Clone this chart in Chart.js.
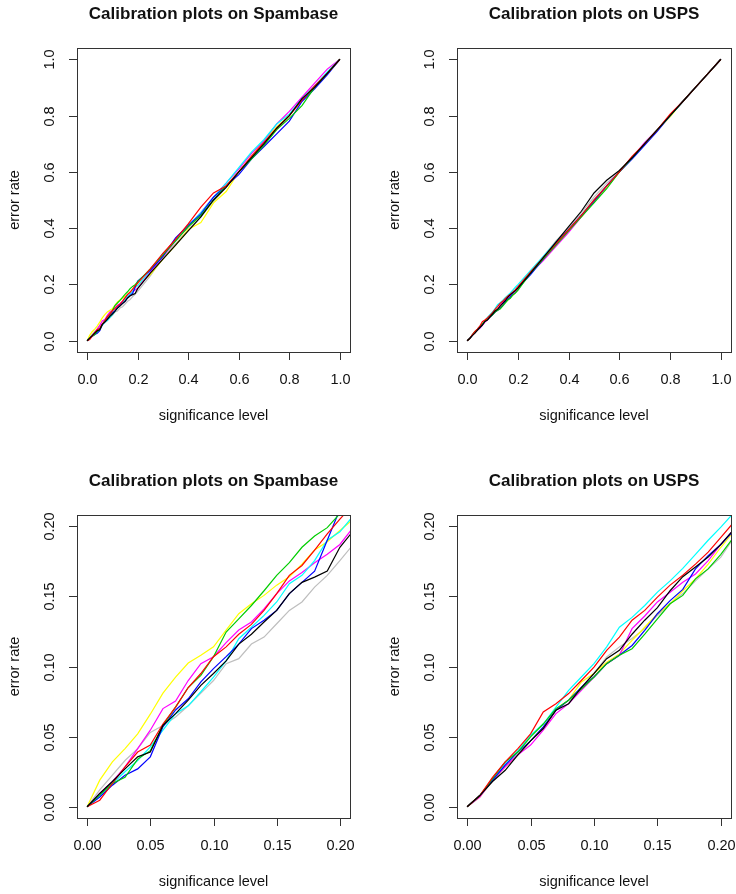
<!DOCTYPE html>
<html>
<head>
<meta charset="utf-8">
<script src="https://cdn.jsdelivr.net/npm/chart.js@4.4.1/dist/chart.umd.min.js"></script>
<style>
  body { margin: 0; background: #fff; }
  #wrap { position: relative; width: 736px; height: 894px; }
  #wrap canvas { position: absolute; }
</style>
</head>
<body>
<div id="wrap">
  <canvas id="c0" width="368" height="447" style="left:0;top:0"></canvas>
  <canvas id="c1" width="368" height="447" style="left:368px;top:0"></canvas>
  <canvas id="c2" width="368" height="447" style="left:0;top:447px"></canvas>
  <canvas id="c3" width="368" height="447" style="left:368px;top:447px"></canvas>
</div>
<script>
// significance levels: fine steps up to 0.2, then coarse
var sig = [0, 0.01, 0.02, 0.03, 0.04, 0.05, 0.06, 0.07, 0.08, 0.09, 0.10,
    0.11, 0.12, 0.13, 0.14, 0.15, 0.16, 0.17, 0.18, 0.19, 0.20,
    0.25, 0.30, 0.35, 0.40, 0.45, 0.50, 0.55, 0.60, 0.65, 0.70, 0.75, 0.80, 0.85, 0.90, 0.95, 1.0]

// error rates, Spambase
var spamBlack = [0, 0.0095, 0.018, 0.027, 0.0356, 0.039, 0.058, 0.0664, 0.076, 0.0866, 0.095, 0.104, 0.116, 0.123, 0.1317, 0.140, 0.152, 0.160, 0.1637, 0.168, 0.185,
    0.24, 0.29, 0.34, 0.39, 0.44, 0.5, 0.545, 0.6, 0.65, 0.70, 0.755, 0.80, 0.86, 0.9, 0.95, 1.0]
var spamRed = [0, 0.0047, 0.0166, 0.0285, 0.039, 0.044, 0.059, 0.071, 0.085, 0.095, 0.107, 0.114, 0.123, 0.130, 0.140, 0.152, 0.165, 0.172, 0.183, 0.1945, 0.205,
    0.255, 0.31, 0.36, 0.415, 0.475, 0.525, 0.55, 0.60, 0.655, 0.705, 0.755, 0.80, 0.855, 0.905, 0.95, 1.0]
var spamGreen = [0, 0.0085, 0.0166, 0.021, 0.034, 0.040, 0.058, 0.071, 0.085, 0.0937, 0.107, 0.1246, 0.134, 0.1435, 0.154, 0.165, 0.174, 0.185, 0.193, 0.199, 0.209,
    0.255, 0.305, 0.355, 0.405, 0.445, 0.5, 0.55, 0.60, 0.645, 0.695, 0.75, 0.79, 0.835, 0.9, 0.95, 1.0]
var spamBlue = [0, 0.007, 0.0154, 0.0225, 0.027, 0.0356, 0.057, 0.069, 0.077, 0.089, 0.0985, 0.107, 0.116, 0.127, 0.133, 0.140, 0.152, 0.160, 0.168, 0.19, 0.212,
    0.25, 0.30, 0.365, 0.41, 0.45, 0.51, 0.55, 0.59, 0.645, 0.69, 0.735, 0.78, 0.85, 0.895, 0.945, 1.0]
var spamCyan = [0, 0.008, 0.0166, 0.025, 0.033, 0.0427, 0.0546, 0.0664, 0.072, 0.082, 0.0925, 0.104, 0.1198, 0.128, 0.1364, 0.146, 0.159, 0.165, 0.1755, 0.19, 0.196,
    0.25, 0.31, 0.355, 0.41, 0.455, 0.51, 0.56, 0.615, 0.67, 0.715, 0.77, 0.805, 0.86, 0.905, 0.955, 1.0]
var spamMagenta = [0, 0.0095, 0.018, 0.0285, 0.0415, 0.0546, 0.070, 0.0754, 0.090, 0.102, 0.107, 0.117, 0.126, 0.1317, 0.141, 0.152, 0.161, 0.167, 0.174, 0.180, 0.187,
    0.245, 0.30, 0.355, 0.405, 0.455, 0.51, 0.56, 0.61, 0.665, 0.71, 0.77, 0.815, 0.865, 0.915, 0.965, 1.0]
var spamYellow = [0, 0.019, 0.032, 0.0415, 0.052, 0.066, 0.081, 0.0925, 0.1025, 0.108, 0.114, 0.126, 0.1376, 0.1447, 0.1507, 0.158, 0.164, 0.173, 0.183, 0.189, 0.197,
    0.235, 0.29, 0.34, 0.395, 0.42, 0.49, 0.53, 0.6, 0.655, 0.71, 0.76, 0.80, 0.855, 0.9, 0.95, 1.0]
var spamGray = [0, 0.012, 0.0225, 0.033, 0.0415, 0.053, 0.058, 0.064, 0.072, 0.081, 0.090, 0.102, 0.1056, 0.116, 0.121, 0.1305, 0.140, 0.146, 0.1566, 0.165, 0.1755,
    0.23, 0.295, 0.345, 0.395, 0.44, 0.495, 0.545, 0.6, 0.65, 0.70, 0.75, 0.80, 0.855, 0.9, 0.95, 1.0]

// error rates, USPS
var uspsBlack = [0, 0.008, 0.018, 0.026, 0.037, 0.047, 0.0558, 0.0688, 0.0735, 0.085, 0.095, 0.1056, 0.1115, 0.123, 0.133, 0.142, 0.154, 0.164, 0.171, 0.178, 0.187,
    0.24, 0.295, 0.35, 0.405, 0.46, 0.525, 0.57, 0.605, 0.65, 0.70, 0.75, 0.80, 0.85, 0.90, 0.95, 1.0]
var uspsRed = [0, 0.008, 0.021, 0.032, 0.0415, 0.052, 0.0676, 0.0735, 0.0807, 0.090, 0.0996, 0.1115, 0.121, 0.133, 0.140, 0.1495, 0.158, 0.165, 0.173, 0.1815, 0.192,
    0.245, 0.295, 0.345, 0.395, 0.445, 0.50, 0.55, 0.60, 0.655, 0.70, 0.75, 0.805, 0.85, 0.90, 0.95, 1.0]
var uspsGreen = [0, 0.008, 0.020, 0.032, 0.039, 0.0498, 0.059, 0.070, 0.076, 0.084, 0.0925, 0.102, 0.108, 0.1127, 0.123, 0.134, 0.1447, 0.1507, 0.1625, 0.1696, 0.180,
    0.24, 0.29, 0.34, 0.39, 0.44, 0.49, 0.54, 0.60, 0.65, 0.70, 0.75, 0.80, 0.85, 0.90, 0.95, 1.0]
var uspsBlue = [0, 0.008, 0.019, 0.0297, 0.039, 0.047, 0.057, 0.0688, 0.076, 0.085, 0.0925, 0.102, 0.108, 0.115, 0.1257, 0.1376, 0.147, 0.155, 0.1696, 0.179, 0.187,
    0.235, 0.29, 0.345, 0.395, 0.445, 0.495, 0.55, 0.60, 0.645, 0.695, 0.745, 0.80, 0.85, 0.90, 0.95, 1.0]
var uspsCyan = [0, 0.008, 0.019, 0.031, 0.040, 0.051, 0.059, 0.071, 0.083, 0.0925, 0.102, 0.114, 0.128, 0.135, 0.1435, 0.153, 0.161, 0.170, 0.180, 0.19, 0.1993,
    0.25, 0.30, 0.35, 0.395, 0.445, 0.50, 0.55, 0.60, 0.65, 0.70, 0.75, 0.80, 0.85, 0.90, 0.95, 1.0]
var uspsMagenta = [0, 0.007, 0.019, 0.0285, 0.037, 0.044, 0.0546, 0.0664, 0.0735, 0.083, 0.0925, 0.102, 0.108, 0.127, 0.136, 0.146, 0.153, 0.160, 0.166, 0.1755, 0.187,
    0.24, 0.285, 0.335, 0.385, 0.44, 0.495, 0.55, 0.60, 0.65, 0.705, 0.75, 0.80, 0.85, 0.90, 0.95, 1.0]
var uspsYellow = [0, 0.007, 0.019, 0.0285, 0.037, 0.047, 0.0558, 0.0688, 0.076, 0.089, 0.095, 0.103, 0.109, 0.1186, 0.128, 0.1376, 0.1447, 0.154, 0.1625, 0.173, 0.185,
    0.24, 0.29, 0.34, 0.39, 0.44, 0.495, 0.545, 0.60, 0.65, 0.70, 0.75, 0.795, 0.85, 0.90, 0.95, 1.0]
var uspsGray = [0, 0.0075, 0.019, 0.0297, 0.037, 0.047, 0.0558, 0.0688, 0.076, 0.085, 0.095, 0.1068, 0.114, 0.12, 0.127, 0.1364, 0.1447, 0.152, 0.161, 0.1696, 0.178,
    0.245, 0.30, 0.355, 0.40, 0.455, 0.51, 0.56, 0.60, 0.65, 0.70, 0.75, 0.80, 0.85, 0.90, 0.95, 1.0]

// tick values and labels
var ticksFull = [0, 0.2, 0.4, 0.6, 0.8, 1.0]
var labelsFull = ['0.0', '0.2', '0.4', '0.6', '0.8', '1.0']
var ticksZoom = [0, 0.05, 0.10, 0.15, 0.20]
var labelsZoom = ['0.00', '0.05', '0.10', '0.15', '0.20']

// first one is drawn on top
var cores = ['#000000', '#ff0000', '#00cd00', '#0000ff', '#00ffff', '#ff00ff', '#ffff00', '#bebebe']
var spam = [spamBlack, spamRed, spamGreen, spamBlue, spamCyan, spamMagenta, spamYellow, spamGray]
var usps = [uspsBlack, uspsRed, uspsGreen, uspsBlue, uspsCyan, uspsMagenta, uspsYellow, uspsGray]

var fonte = '"Liberation Sans", Arial, Helvetica, sans-serif'

function montarDatasets(series){
    var lista = []
    for (let i = 0; i < series.length; i++) {
        let pontos = []
        for (let j = 0; j < sig.length; j++) {
            pontos.push({x: sig[j], y: series[i][j]})
        }
        lista.push({
            data: pontos,
            borderColor: cores[i],
            borderWidth: 1.2,
            pointRadius: 0,
            tension: 0,
            fill: false,
            clip: 0
        })
    }
    return lista
}

// box, ticks and labels drawn like base R graphics
var eixosR = {
    id: 'eixosR',
    afterDraw: function(chart){
        var ctx = chart.ctx
        var area = chart.chartArea
        var xs = chart.scales.x
        var ys = chart.scales.y
        var op = chart.options.plugins.eixosR
        var cx = (area.left + area.right) / 2
        var cy = (area.top + area.bottom) / 2

        ctx.save()
        ctx.strokeStyle = '#333'
        ctx.lineWidth = 1
        ctx.strokeRect(Math.round(area.left) + 0.5, Math.round(area.top) + 0.5,
            Math.round(area.right - area.left), Math.round(area.bottom - area.top))

        ctx.fillStyle = '#111'
        ctx.font = '14.5px ' + fonte
        ctx.textAlign = 'center'
        ctx.textBaseline = 'middle'

        // x axis
        ctx.beginPath()
        for (let i = 0; i < op.ticks.length; i++) {
            let px = Math.round(xs.getPixelForValue(op.ticks[i])) + 0.5
            ctx.moveTo(px, area.bottom)
            ctx.lineTo(px, area.bottom + 8)
            ctx.fillText(op.labels[i], px, area.bottom + 28)
        }
        ctx.stroke()

        // y axis, labels parallel to the axis
        ctx.beginPath()
        for (let i = 0; i < op.ticks.length; i++) {
            let py = Math.round(ys.getPixelForValue(op.ticks[i])) + 0.5
            ctx.moveTo(area.left, py)
            ctx.lineTo(area.left - 8, py)
            ctx.save()
            ctx.translate(area.left - 27, py)
            ctx.rotate(-Math.PI / 2)
            ctx.fillText(op.labels[i], 0, 0)
            ctx.restore()
        }
        ctx.stroke()

        ctx.fillText('significance level', cx, area.bottom + 64)
        ctx.save()
        ctx.translate(area.left - 62, cy)
        ctx.rotate(-Math.PI / 2)
        ctx.fillText('error rate', 0, 0)
        ctx.restore()

        ctx.font = 'bold 17px ' + fonte
        ctx.fillText(op.titulo, cx, op.tituloY)
        ctx.restore()
    }
}

function criarGrafico(id, series, titulo, lim, ticks, labels, pad, tituloY){
    return new Chart(document.getElementById(id), {
        type: 'line',
        data: { datasets: montarDatasets(series) },
        options: {
            responsive: false,
            animation: false,
            devicePixelRatio: 1,
            layout: { padding: pad },
            scales: {
                x: { type: 'linear', min: -lim * 0.04, max: lim * 1.04, display: false },
                y: { type: 'linear', min: -lim * 0.04, max: lim * 1.04, display: false }
            },
            plugins: {
                legend: { display: false },
                tooltip: { enabled: false },
                eixosR: { ticks: ticks, labels: labels, titulo: titulo, tituloY: tituloY }
            }
        },
        plugins: [eixosR]
    })
}

criarGrafico('c0', spam, 'Calibration plots on Spambase', 1, ticksFull, labelsFull,
    {left: 77, right: 18, top: 48, bottom: 95}, 14)
criarGrafico('c1', usps, 'Calibration plots on USPS', 1, ticksFull, labelsFull,
    {left: 89, right: 5, top: 48, bottom: 95}, 14)
criarGrafico('c2', spam, 'Calibration plots on Spambase', 0.2, ticksZoom, labelsZoom,
    {left: 77, right: 18, top: 68, bottom: 76}, 34)
criarGrafico('c3', usps, 'Calibration plots on USPS', 0.2, ticksZoom, labelsZoom,
    {left: 89, right: 5, top: 68, bottom: 76}, 34)
</script>
</body>
</html>
